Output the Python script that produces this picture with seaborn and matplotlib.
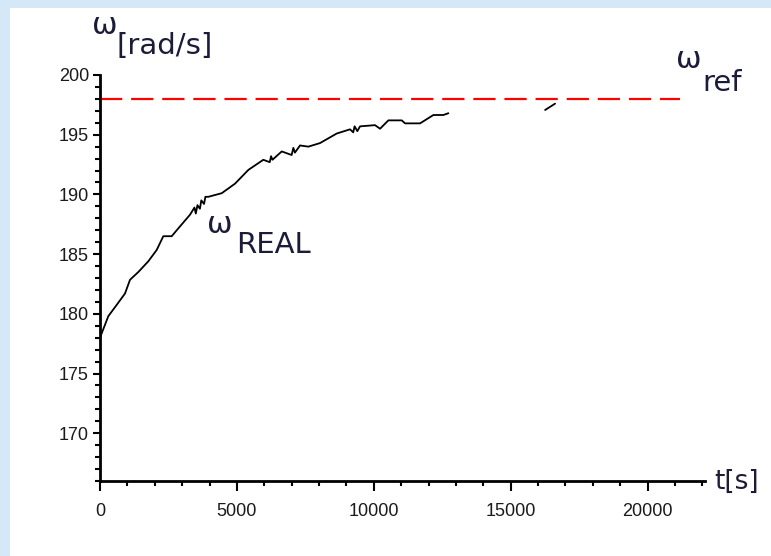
import numpy as np
import pandas as pd
import matplotlib
matplotlib.use('Agg')
import matplotlib.pyplot as plt
import seaborn as sns
from matplotlib import font_manager
from matplotlib.patches import Rectangle
from matplotlib.ticker import MultipleLocator

t_real = [0, 303, 610, 913, 1096, 1399, 1765, 2072, 2313, 2620, 2803, 3288,
          3450, 3500, 3560, 3650, 3700, 3800, 3850, 3957, 4446, 4932, 5418,
          5966, 6200, 6250, 6300, 6639, 7000, 7063, 7120, 7307, 7611, 8038,
          8648, 9134, 9250, 9300, 9400, 9499, 10047, 10230, 10533, 11023,
          11144, 11692, 12178, 12544, 12726]
w_real = [178.0, 179.8, 180.75, 181.7, 182.85, 183.5, 184.4, 185.35, 186.5,
          186.5, 187.0, 188.3, 188.9, 188.4, 189.1, 188.8, 189.5, 189.2,
          189.8, 189.8, 190.1, 190.9, 192.05, 192.9, 192.7, 193.2, 192.9,
          193.6, 193.3, 193.9, 193.5, 194.1, 194.0, 194.3, 195.1, 195.45,
          195.2, 195.7, 195.3, 195.7, 195.8, 195.5, 196.2, 196.2, 195.95,
          195.95, 196.65, 196.65, 196.8]

# petit morceau isolé près de 16000 s
t_frag = [16259, 16624]
w_frag = [197.07, 197.6]

# consigne
t_ref = [0, 21200]
w_ref = [198, 198]

x_ticks = [0, 5000, 10000, 15000, 20000]
y_ticks = [170, 175, 180, 185, 190, 195, 200]

W, H = 771, 556
sns.set_style('ticks')
plt.rcParams['font.family'] = ['Liberation Sans', 'DejaVu Sans']

# police étroite pour les graduations si elle existe
installed = {f.name for f in font_manager.fontManager.ttflist}
if 'Liberation Sans Narrow' in installed:
    tick_font, tick_size = 'Liberation Sans Narrow', 14
else:
    tick_font, tick_size = 'Liberation Sans', 13

fig = plt.figure(figsize=(W / 100, H / 100), dpi=100)
fig.patch.set_facecolor('#d5e8f8')
fig.patches.append(Rectangle((10 / W, 0), 1, 1 - 8 / H, transform=fig.transFigure,
                             facecolor='white', edgecolor='none', zorder=-5))

ax = fig.add_axes([100 / W, 1 - 481 / H, 605 / W, 406 / H])
ax.set_facecolor('none')
ax.set_zorder(2)

sns.lineplot(x=t_ref, y=w_ref, ax=ax, color='#ff0000', linewidth=1.6,
             estimator=None, sort=False)
ax.lines[-1].set_dashes((10, 4))
sns.lineplot(x=t_real, y=w_real, ax=ax, color='black', linewidth=1.3,
             estimator=None, sort=False)
sns.lineplot(x=t_frag, y=w_frag, ax=ax, color='black', linewidth=1.3,
             estimator=None, sort=False)

ax.set_xlim(0, 22100)
ax.set_ylim(166, 200)
ax.set_xticks(x_ticks)
ax.set_yticks(y_ticks)
ax.xaxis.set_minor_locator(MultipleLocator(1000))
ax.yaxis.set_minor_locator(MultipleLocator(1))
ax.tick_params(which='major', length=7, width=1.5, color='black')
ax.tick_params(axis='x', which='major', pad=9)
ax.tick_params(axis='y', which='major', pad=3, length=5)
ax.tick_params(which='minor', length=3.5, width=1.5, color='black')
for lab in ax.get_xticklabels() + ax.get_yticklabels():
    lab.set_family(tick_font)
    lab.set_fontsize(tick_size)
    lab.set_color('#1a1a1a')
for s in ['top', 'right']:
    ax.spines[s].set_visible(False)
for s in ['left', 'bottom']:
    ax.spines[s].set_linewidth(2)
    ax.spines[s].set_color('black')
ax.set_xlabel('')
ax.set_ylabel('')

tc = '#1c1c3a'
def px(x, y, s, size, ha='center'):
    fig.text(x / W, 1 - y / H, s, fontsize=size, ha=ha, va='center', color=tc,
             family=['DejaVu Sans'], zorder=3)

px(105, 25, 'ω', 22)
px(117, 46, '[rad/s]', 21, ha='left')
px(220, 225, 'ω', 22)
px(236, 245, 'REAL', 21, ha='left')
px(689, 60, 'ω', 22)
px(702, 83, 'ref', 21, ha='left')
px(714, 482, 't[s]', 19, ha='left')

fig.savefig('out.png', dpi=100)
